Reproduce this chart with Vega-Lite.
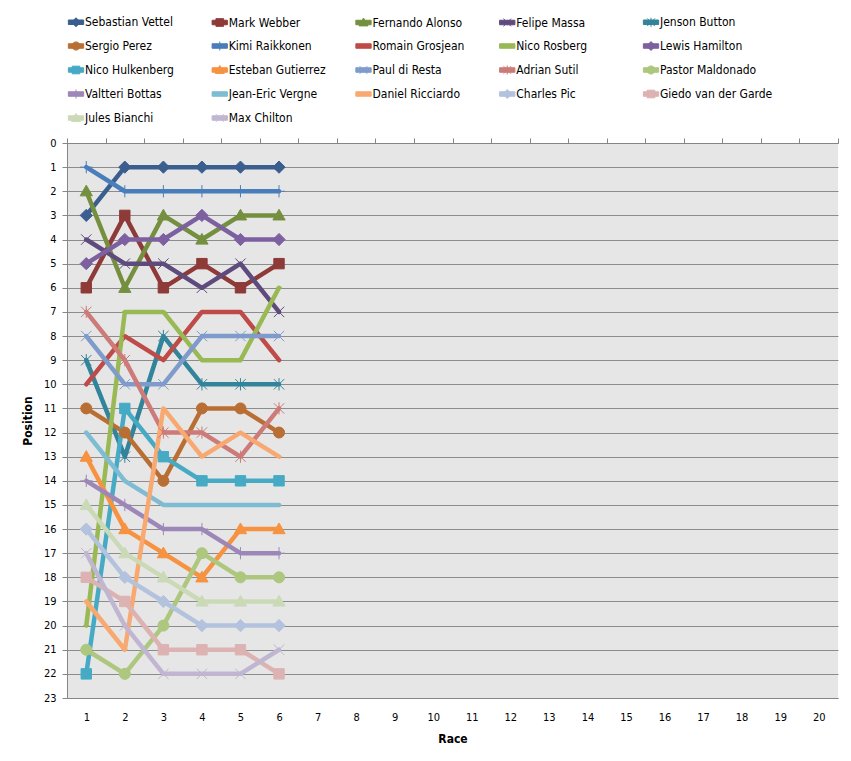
{
  "$schema": "https://vega.github.io/schema/vega-lite/v6.json",
  "width": 771,
  "height": 555,
  "autosize": {"type": "none"},
  "padding": {"left": 67, "top": 143, "right": 13, "bottom": 63},
  "background": "white",
  "config": {
    "font": "Liberation Sans Narrow, DejaVu Sans Condensed, sans-serif",
    "view": {"fill": "#E6E6E6", "stroke": null},
    "axis": {
      "labelFontSize": 11,
      "labelColor": "#000000",
      "labelOverlap": false,
      "domainColor": "#868686",
      "tickColor": "#868686",
      "gridColor": "#8C8C8C",
      "gridOpacity": 1,
      "titleFontSize": 12,
      "titleFontWeight": "bold",
      "titleColor": "#000000"
    }
  },
  "data": {
    "values": [
      {"driver": "Sebastian Vettel", "race": 1, "position": 3},
      {"driver": "Sebastian Vettel", "race": 2, "position": 1},
      {"driver": "Sebastian Vettel", "race": 3, "position": 1},
      {"driver": "Sebastian Vettel", "race": 4, "position": 1},
      {"driver": "Sebastian Vettel", "race": 5, "position": 1},
      {"driver": "Sebastian Vettel", "race": 6, "position": 1},
      {"driver": "Mark Webber", "race": 1, "position": 6},
      {"driver": "Mark Webber", "race": 2, "position": 3},
      {"driver": "Mark Webber", "race": 3, "position": 6},
      {"driver": "Mark Webber", "race": 4, "position": 5},
      {"driver": "Mark Webber", "race": 5, "position": 6},
      {"driver": "Mark Webber", "race": 6, "position": 5},
      {"driver": "Fernando Alonso", "race": 1, "position": 2},
      {"driver": "Fernando Alonso", "race": 2, "position": 6},
      {"driver": "Fernando Alonso", "race": 3, "position": 3},
      {"driver": "Fernando Alonso", "race": 4, "position": 4},
      {"driver": "Fernando Alonso", "race": 5, "position": 3},
      {"driver": "Fernando Alonso", "race": 6, "position": 3},
      {"driver": "Felipe Massa", "race": 1, "position": 4},
      {"driver": "Felipe Massa", "race": 2, "position": 5},
      {"driver": "Felipe Massa", "race": 3, "position": 5},
      {"driver": "Felipe Massa", "race": 4, "position": 6},
      {"driver": "Felipe Massa", "race": 5, "position": 5},
      {"driver": "Felipe Massa", "race": 6, "position": 7},
      {"driver": "Jenson Button", "race": 1, "position": 9},
      {"driver": "Jenson Button", "race": 2, "position": 13},
      {"driver": "Jenson Button", "race": 3, "position": 8},
      {"driver": "Jenson Button", "race": 4, "position": 10},
      {"driver": "Jenson Button", "race": 5, "position": 10},
      {"driver": "Jenson Button", "race": 6, "position": 10},
      {"driver": "Sergio Perez", "race": 1, "position": 11},
      {"driver": "Sergio Perez", "race": 2, "position": 12},
      {"driver": "Sergio Perez", "race": 3, "position": 14},
      {"driver": "Sergio Perez", "race": 4, "position": 11},
      {"driver": "Sergio Perez", "race": 5, "position": 11},
      {"driver": "Sergio Perez", "race": 6, "position": 12},
      {"driver": "Kimi Raikkonen", "race": 1, "position": 1},
      {"driver": "Kimi Raikkonen", "race": 2, "position": 2},
      {"driver": "Kimi Raikkonen", "race": 3, "position": 2},
      {"driver": "Kimi Raikkonen", "race": 4, "position": 2},
      {"driver": "Kimi Raikkonen", "race": 5, "position": 2},
      {"driver": "Kimi Raikkonen", "race": 6, "position": 2},
      {"driver": "Romain Grosjean", "race": 1, "position": 10},
      {"driver": "Romain Grosjean", "race": 2, "position": 8},
      {"driver": "Romain Grosjean", "race": 3, "position": 9},
      {"driver": "Romain Grosjean", "race": 4, "position": 7},
      {"driver": "Romain Grosjean", "race": 5, "position": 7},
      {"driver": "Romain Grosjean", "race": 6, "position": 9},
      {"driver": "Nico Rosberg", "race": 1, "position": 20},
      {"driver": "Nico Rosberg", "race": 2, "position": 7},
      {"driver": "Nico Rosberg", "race": 3, "position": 7},
      {"driver": "Nico Rosberg", "race": 4, "position": 9},
      {"driver": "Nico Rosberg", "race": 5, "position": 9},
      {"driver": "Nico Rosberg", "race": 6, "position": 6},
      {"driver": "Lewis Hamilton", "race": 1, "position": 5},
      {"driver": "Lewis Hamilton", "race": 2, "position": 4},
      {"driver": "Lewis Hamilton", "race": 3, "position": 4},
      {"driver": "Lewis Hamilton", "race": 4, "position": 3},
      {"driver": "Lewis Hamilton", "race": 5, "position": 4},
      {"driver": "Lewis Hamilton", "race": 6, "position": 4},
      {"driver": "Nico Hulkenberg", "race": 1, "position": 22},
      {"driver": "Nico Hulkenberg", "race": 2, "position": 11},
      {"driver": "Nico Hulkenberg", "race": 3, "position": 13},
      {"driver": "Nico Hulkenberg", "race": 4, "position": 14},
      {"driver": "Nico Hulkenberg", "race": 5, "position": 14},
      {"driver": "Nico Hulkenberg", "race": 6, "position": 14},
      {"driver": "Esteban Gutierrez", "race": 1, "position": 13},
      {"driver": "Esteban Gutierrez", "race": 2, "position": 16},
      {"driver": "Esteban Gutierrez", "race": 3, "position": 17},
      {"driver": "Esteban Gutierrez", "race": 4, "position": 18},
      {"driver": "Esteban Gutierrez", "race": 5, "position": 16},
      {"driver": "Esteban Gutierrez", "race": 6, "position": 16},
      {"driver": "Paul di Resta", "race": 1, "position": 8},
      {"driver": "Paul di Resta", "race": 2, "position": 10},
      {"driver": "Paul di Resta", "race": 3, "position": 10},
      {"driver": "Paul di Resta", "race": 4, "position": 8},
      {"driver": "Paul di Resta", "race": 5, "position": 8},
      {"driver": "Paul di Resta", "race": 6, "position": 8},
      {"driver": "Adrian Sutil", "race": 1, "position": 7},
      {"driver": "Adrian Sutil", "race": 2, "position": 9},
      {"driver": "Adrian Sutil", "race": 3, "position": 12},
      {"driver": "Adrian Sutil", "race": 4, "position": 12},
      {"driver": "Adrian Sutil", "race": 5, "position": 13},
      {"driver": "Adrian Sutil", "race": 6, "position": 11},
      {"driver": "Pastor Maldonado", "race": 1, "position": 21},
      {"driver": "Pastor Maldonado", "race": 2, "position": 22},
      {"driver": "Pastor Maldonado", "race": 3, "position": 20},
      {"driver": "Pastor Maldonado", "race": 4, "position": 17},
      {"driver": "Pastor Maldonado", "race": 5, "position": 18},
      {"driver": "Pastor Maldonado", "race": 6, "position": 18},
      {"driver": "Valtteri Bottas", "race": 1, "position": 14},
      {"driver": "Valtteri Bottas", "race": 2, "position": 15},
      {"driver": "Valtteri Bottas", "race": 3, "position": 16},
      {"driver": "Valtteri Bottas", "race": 4, "position": 16},
      {"driver": "Valtteri Bottas", "race": 5, "position": 17},
      {"driver": "Valtteri Bottas", "race": 6, "position": 17},
      {"driver": "Jean-Eric Vergne", "race": 1, "position": 12},
      {"driver": "Jean-Eric Vergne", "race": 2, "position": 14},
      {"driver": "Jean-Eric Vergne", "race": 3, "position": 15},
      {"driver": "Jean-Eric Vergne", "race": 4, "position": 15},
      {"driver": "Jean-Eric Vergne", "race": 5, "position": 15},
      {"driver": "Jean-Eric Vergne", "race": 6, "position": 15},
      {"driver": "Daniel Ricciardo", "race": 1, "position": 19},
      {"driver": "Daniel Ricciardo", "race": 2, "position": 21},
      {"driver": "Daniel Ricciardo", "race": 3, "position": 11},
      {"driver": "Daniel Ricciardo", "race": 4, "position": 13},
      {"driver": "Daniel Ricciardo", "race": 5, "position": 12},
      {"driver": "Daniel Ricciardo", "race": 6, "position": 13},
      {"driver": "Charles Pic", "race": 1, "position": 16},
      {"driver": "Charles Pic", "race": 2, "position": 18},
      {"driver": "Charles Pic", "race": 3, "position": 19},
      {"driver": "Charles Pic", "race": 4, "position": 20},
      {"driver": "Charles Pic", "race": 5, "position": 20},
      {"driver": "Charles Pic", "race": 6, "position": 20},
      {"driver": "Giedo van der Garde", "race": 1, "position": 18},
      {"driver": "Giedo van der Garde", "race": 2, "position": 19},
      {"driver": "Giedo van der Garde", "race": 3, "position": 21},
      {"driver": "Giedo van der Garde", "race": 4, "position": 21},
      {"driver": "Giedo van der Garde", "race": 5, "position": 21},
      {"driver": "Giedo van der Garde", "race": 6, "position": 22},
      {"driver": "Jules Bianchi", "race": 1, "position": 15},
      {"driver": "Jules Bianchi", "race": 2, "position": 17},
      {"driver": "Jules Bianchi", "race": 3, "position": 18},
      {"driver": "Jules Bianchi", "race": 4, "position": 19},
      {"driver": "Jules Bianchi", "race": 5, "position": 19},
      {"driver": "Jules Bianchi", "race": 6, "position": 19},
      {"driver": "Max Chilton", "race": 1, "position": 17},
      {"driver": "Max Chilton", "race": 2, "position": 20},
      {"driver": "Max Chilton", "race": 3, "position": 22},
      {"driver": "Max Chilton", "race": 4, "position": 22},
      {"driver": "Max Chilton", "race": 5, "position": 22},
      {"driver": "Max Chilton", "race": 6, "position": 21}
    ]
  },
  "resolve": {"axis": {"x": "independent"}},
  "layer": [
    {
      "mark": {"type": "line", "strokeWidth": 4.5, "strokeJoin": "round", "strokeCap": "round"},
      "encoding": {
        "x": {
          "field": "race", "type": "quantitative",
          "scale": {"domain": [0.5, 20.5], "nice": false, "zero": false},
          "axis": {
            "values": [1, 2, 3, 4, 5, 6, 7, 8, 9, 10, 11, 12, 13, 14, 15, 16, 17, 18, 19, 20],
            "ticks": false, "tickSize": 0, "grid": false, "domain": true,
            "labelPadding": 13, "title": "Race", "titlePadding": 11
          }
        },
        "y": {
          "field": "position", "type": "quantitative",
          "scale": {"domain": [0, 23], "reverse": true, "nice": false, "zero": false},
          "axis": {
            "values": [0, 1, 2, 3, 4, 5, 6, 7, 8, 9, 10, 11, 12, 13, 14, 15, 16, 17, 18, 19, 20, 21, 22, 23],
            "tickSize": 5, "labelPadding": 6, "grid": true, "labelOverlap": false,
            "title": "Position", "titlePadding": 9
          }
        },
        "color": {
          "field": "driver", "type": "nominal",
          "scale": {
            "domain": ["Sebastian Vettel", "Mark Webber", "Fernando Alonso", "Felipe Massa", "Jenson Button", "Sergio Perez", "Kimi Raikkonen", "Romain Grosjean", "Nico Rosberg", "Lewis Hamilton", "Nico Hulkenberg", "Esteban Gutierrez", "Paul di Resta", "Adrian Sutil", "Pastor Maldonado", "Valtteri Bottas", "Jean-Eric Vergne", "Daniel Ricciardo", "Charles Pic", "Giedo van der Garde", "Jules Bianchi", "Max Chilton"],
            "range": ["#3A5F8F", "#8E3A38", "#74903F", "#5E4A7C", "#32849A", "#B96F33", "#4A7EBB", "#BE4B48", "#98B954", "#7D60A0", "#46AAC5", "#F69240", "#7E9BCB", "#CC7B79", "#ADC77E", "#9C87B8", "#7DBCD2", "#F8A972", "#B3C2DD", "#DCB3B2", "#CBDAB6", "#C0B6D2"]
          },
          "legend": {
            "title": null, "orient": "none", "legendX": 3, "legendY": -127,
            "direction": "horizontal",
            "columns": 5, "gridAlign": "all", "columnPadding": 11.75, "rowPadding": 10,
            "padding": 0, "symbolSize": 81, "labelOffset": 3,
            "symbolType": "M-1.7,-0.5H1.7V0.5H-1.7Z",
            "symbolStrokeWidth": 1,
            "symbolOpacity": 1,
            "labelFontSize": 12, "labelColor": "#000000", "labelLimit": 200,
            "encode": {
              "symbols": {
                "update": {
                  "shape": {"signal": "'M-1.7,-0.5H1.7V0.5H-1.7Z ' + scale('shape', datum.value)"},
                  "fill": {"signal": "scale('color', datum.value)"},
                  "stroke": {"signal": "scale('color', datum.value)"}
                }
              }
            }
          }
        }
      }
    },
    {
      "mark": {"type": "point", "filled": true, "size": 150, "strokeWidth": 1, "opacity": 1},
      "encoding": {
        "x": {
          "field": "race", "type": "quantitative",
          "axis": {
            "values": [0.5, 1.5, 2.5, 3.5, 4.5, 5.5, 6.5, 7.5, 8.5, 9.5, 10.5, 11.5, 12.5, 13.5, 14.5, 15.5, 16.5, 17.5, 18.5, 19.5, 20.5],
            "labels": false, "grid": false, "tickSize": 5, "title": null
          }
        },
        "y": {
          "field": "position", "type": "quantitative",
          "axis": {
            "values": [0, 1, 2, 3, 4, 5, 6, 7, 8, 9, 10, 11, 12, 13, 14, 15, 16, 17, 18, 19, 20, 21, 22, 23],
            "tickSize": 5, "labelPadding": 6, "grid": true, "labelOverlap": false,
            "title": "Position", "titlePadding": 9
          }
        },
        "color": {
          "field": "driver", "type": "nominal", "legend": null,
          "scale": {
            "domain": ["Sebastian Vettel", "Mark Webber", "Fernando Alonso", "Felipe Massa", "Jenson Button", "Sergio Perez", "Kimi Raikkonen", "Romain Grosjean", "Nico Rosberg", "Lewis Hamilton", "Nico Hulkenberg", "Esteban Gutierrez", "Paul di Resta", "Adrian Sutil", "Pastor Maldonado", "Valtteri Bottas", "Jean-Eric Vergne", "Daniel Ricciardo", "Charles Pic", "Giedo van der Garde", "Jules Bianchi", "Max Chilton"],
            "range": ["#3A5F8F", "#8E3A38", "#74903F", "#5E4A7C", "#32849A", "#B96F33", "#4A7EBB", "#BE4B48", "#98B954", "#7D60A0", "#46AAC5", "#F69240", "#7E9BCB", "#CC7B79", "#ADC77E", "#9C87B8", "#7DBCD2", "#F8A972", "#B3C2DD", "#DCB3B2", "#CBDAB6", "#C0B6D2"]
          }
        },
        "stroke": {
          "field": "driver", "type": "nominal", "legend": null,
          "scale": {
            "domain": ["Sebastian Vettel", "Mark Webber", "Fernando Alonso", "Felipe Massa", "Jenson Button", "Sergio Perez", "Kimi Raikkonen", "Romain Grosjean", "Nico Rosberg", "Lewis Hamilton", "Nico Hulkenberg", "Esteban Gutierrez", "Paul di Resta", "Adrian Sutil", "Pastor Maldonado", "Valtteri Bottas", "Jean-Eric Vergne", "Daniel Ricciardo", "Charles Pic", "Giedo van der Garde", "Jules Bianchi", "Max Chilton"],
            "range": ["#3A5F8F", "#8E3A38", "#74903F", "#5E4A7C", "#32849A", "#B96F33", "#4A7EBB", "#BE4B48", "#98B954", "#7D60A0", "#46AAC5", "#F69240", "#7E9BCB", "#CC7B79", "#ADC77E", "#9C87B8", "#7DBCD2", "#F8A972", "#B3C2DD", "#DCB3B2", "#CBDAB6", "#C0B6D2"]
          }
        },
        "shape": {
          "field": "driver", "type": "nominal", "legend": null,
          "scale": {
            "domain": ["Max Chilton", "Jules Bianchi", "Giedo van der Garde", "Charles Pic", "Daniel Ricciardo", "Jean-Eric Vergne", "Valtteri Bottas", "Pastor Maldonado", "Adrian Sutil", "Paul di Resta", "Esteban Gutierrez", "Nico Hulkenberg", "Lewis Hamilton", "Nico Rosberg", "Romain Grosjean", "Kimi Raikkonen", "Sergio Perez", "Jenson Button", "Felipe Massa", "Fernando Alonso", "Mark Webber", "Sebastian Vettel"],
            "range": [
              "M-0.85,-0.85L0.85,0.85M-0.85,0.85L0.85,-0.85",
              "M0,-1L1,0.75H-1Z",
              "M-0.85,-0.85H0.85V0.85H-0.85Z",
              "M0,-1L1,0L0,1L-1,0Z",
              "M-0.5,0H0.5",
              "M-0.4,0H0.4",
              "M-1,0H1M0,-1V1",
              "M0.9,0A0.9,0.9 0 1,1 -0.9,0A0.9,0.9 0 1,1 0.9,0Z",
              "M-0.85,-0.85L0.85,0.85M-0.85,0.85L0.85,-0.85M0,-1V1",
              "M-0.85,-0.85L0.85,0.85M-0.85,0.85L0.85,-0.85",
              "M0,-1L1,0.75H-1Z",
              "M-0.85,-0.85H0.85V0.85H-0.85Z",
              "M0,-1L1,0L0,1L-1,0Z",
              "M-0.5,0H0.5",
              "M-0.4,0H0.4",
              "M-1,0H1M0,-1V1",
              "M0.9,0A0.9,0.9 0 1,1 -0.9,0A0.9,0.9 0 1,1 0.9,0Z",
              "M-0.85,-0.85L0.85,0.85M-0.85,0.85L0.85,-0.85M0,-1V1",
              "M-0.85,-0.85L0.85,0.85M-0.85,0.85L0.85,-0.85",
              "M0,-1L1,0.75H-1Z",
              "M-0.85,-0.85H0.85V0.85H-0.85Z",
              "M0,-1L1,0L0,1L-1,0Z"
            ]
          }
        }
      }
    }
  ]
}
